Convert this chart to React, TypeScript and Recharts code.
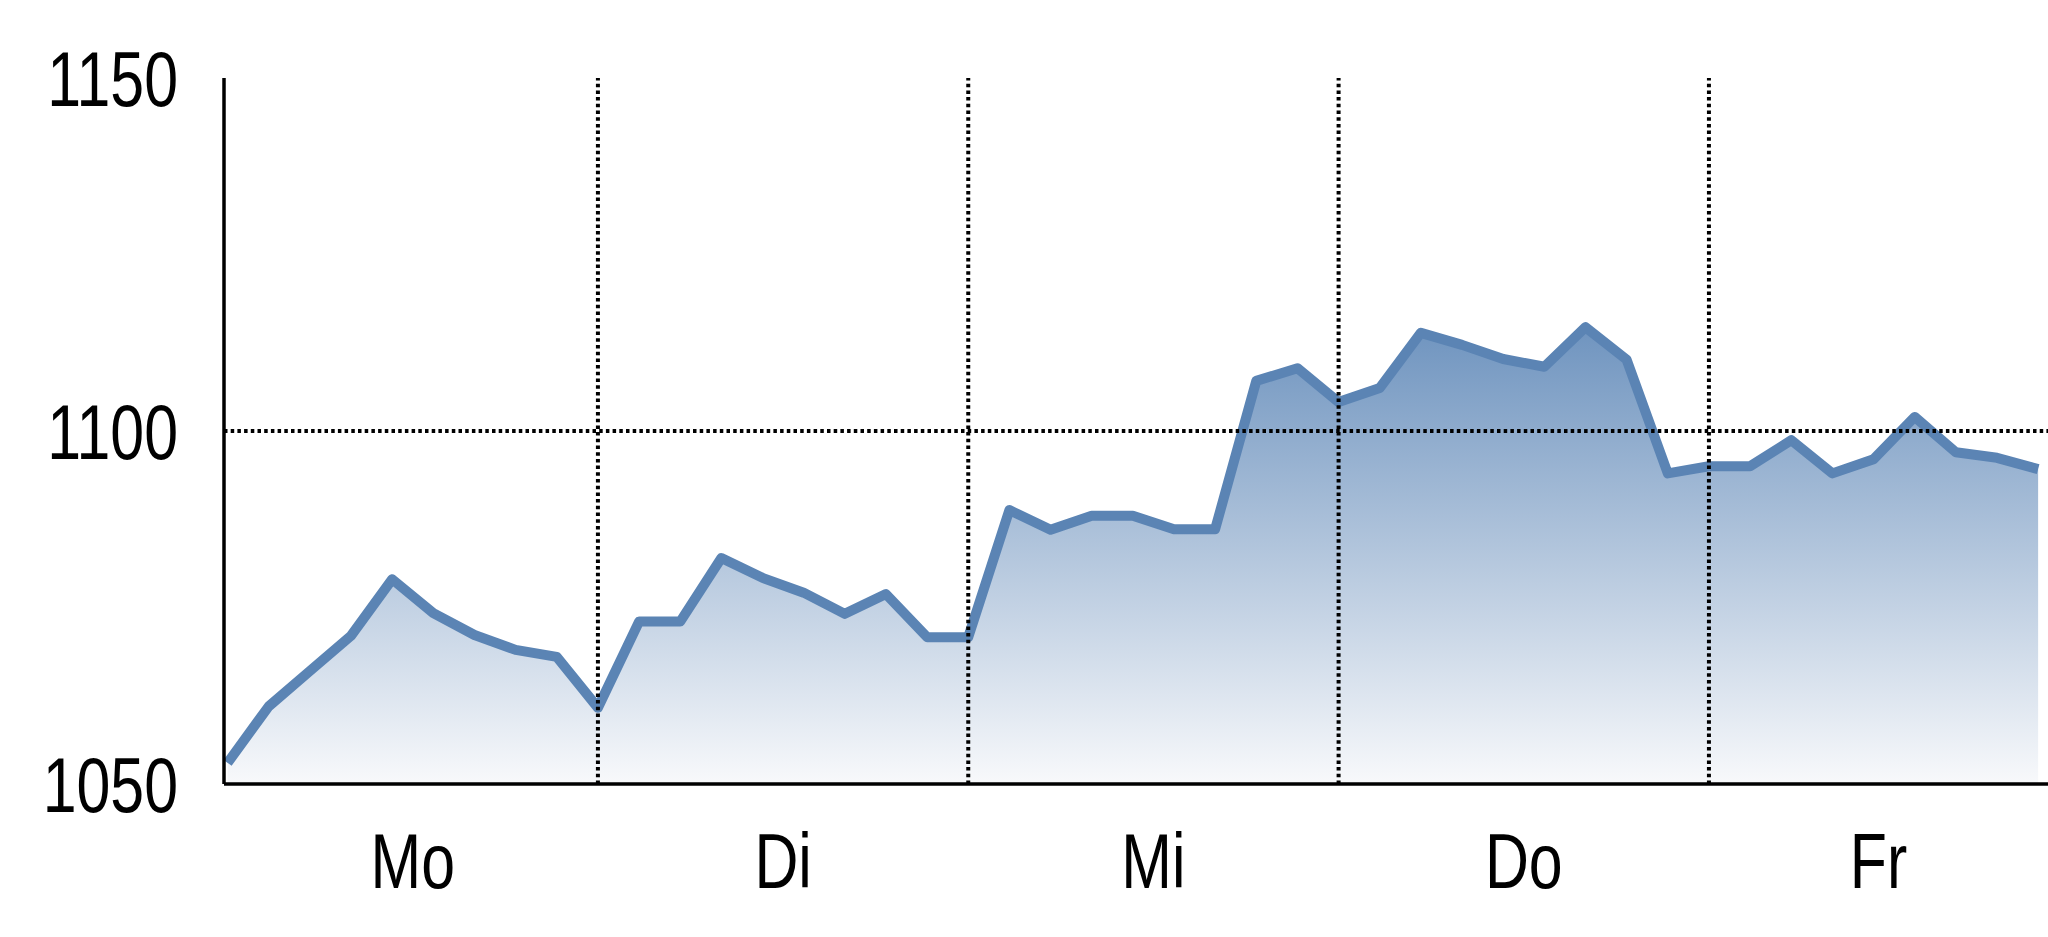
import { AreaChart, Area, XAxis, YAxis, ReferenceLine } from 'recharts';

// weekday labels (German), 9 intervals per day
const days = ['Mo', 'Di', 'Mi', 'Do', 'Fr'];
const STEPS_PER_DAY = 9;

// closing values, one per step
const mo = [1053, 1061, 1066, 1071, 1079, 1074.2, 1071.1, 1069, 1068];
const di = [1060.8, 1073, 1073, 1082, 1079.2, 1077.1, 1074.1, 1076.9, 1070.8];
const mi = [1070.8, 1088.8, 1086, 1088, 1088, 1086.1, 1086.1, 1107.1, 1108.9];
const doV = [1104.1, 1106.1, 1113.9, 1112.2, 1110.2, 1109.1, 1114.7, 1110.1, 1094];
const fr = [1095, 1095, 1098.7, 1094, 1096, 1102, 1097, 1096.2, 1094.6];

const yTicks = [1050, 1100, 1150];

// x range: the chart is cut off on the right during Friday
const X_MIN = -0.087;
const X_MAX = 44.24;

const values = [...mo, ...di, ...mi, ...doV, ...fr];
const data = values.map((v, i) => ({ i, value: v }));

const dayBounds = days.map((_, d) => d * STEPS_PER_DAY).slice(1);
const dayCenters = days.map((_, d) => {
  const start = d * STEPS_PER_DAY;
  const end = Math.min((d + 1) * STEPS_PER_DAY, X_MAX);
  return (start + end) / 2;
});

const font = '"Liberation Sans", Arial, sans-serif';

// no narrow font installed, so squeeze the regular one horizontally
const NarrowTick = (props: any) => {
  const { x, y, payload, anchor, dy, format } = props;
  return (
    <g transform={`translate(${x},${y})`}>
      <text
        transform="scale(0.79,1)"
        textAnchor={anchor}
        dy={dy}
        fill="#000"
        fontSize={77}
        fontFamily={font}
      >
        {format(payload.value)}
      </text>
    </g>
  );
};

const App = () => {
  return (
    <div style={{ position: 'absolute', left: 0, top: 0, width: 2048, height: 937, background: '#fff' }}>
      <AreaChart
        width={2048}
        height={937}
        data={data}
        margin={{ top: 78, right: 0, bottom: 33, left: 0 }}
      >
        <defs>
          <linearGradient id="fillGrad" x1="0" y1="0" x2="0" y2="1">
            <stop offset="0%" stopColor="#6f94bf" />
            <stop offset="100%" stopColor="#f8f9fb" />
          </linearGradient>
        </defs>
        <XAxis
          type="number"
          dataKey="i"
          domain={[X_MIN, X_MAX]}
          ticks={dayCenters}
          interval={0}
          tickLine={false}
          tickSize={0}
          tickMargin={49}
          height={120}
          axisLine={{ stroke: '#000', strokeWidth: 3.5 }}
          tick={(p: any) => (
            <NarrowTick {...p} anchor="middle" dy="0.71em" format={(v: number) => days[dayCenters.indexOf(v)] ?? ''} />
          )}
        />
        <YAxis
          type="number"
          domain={[1050, 1150]}
          ticks={yTicks}
          interval={0}
          width={224}
          tickLine={false}
          tickSize={0}
          tickMargin={46}
          axisLine={{ stroke: '#000', strokeWidth: 3.5 }}
          tick={(p: any) => <NarrowTick {...p} anchor="end" dy="0.36em" format={(v: number) => String(v)} />}
        />
        <Area
          type="linear"
          dataKey="value"
          stroke="#5b84b4"
          strokeWidth={10}
          strokeLinejoin="round"
          fill="url(#fillGrad)"
          fillOpacity={1}
          dot={false}
          activeDot={false}
          isAnimationActive={false}
        />
        <ReferenceLine y={1100} stroke="#000" strokeWidth={4} strokeDasharray="3.5 3.2" />
        {dayBounds.map((b) => (
          <ReferenceLine key={b} x={b} stroke="#000" strokeWidth={4} strokeDasharray="3.5 3.2" />
        ))}
      </AreaChart>
    </div>
  );
};

export default App;
